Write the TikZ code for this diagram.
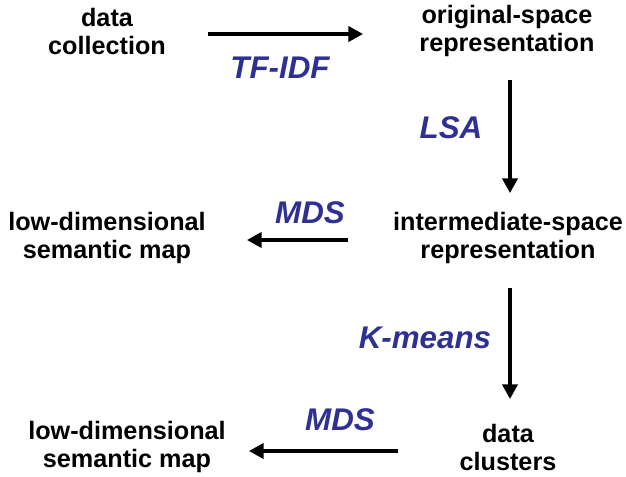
\documentclass[tikz,border=0pt]{standalone}
\usepackage{fontspec}
\setmainfont{Liberation Sans}
\usetikzlibrary{arrows.meta}
\definecolor{lblue}{RGB}{46,49,146}
\begin{document}
\begin{tikzpicture}[x=0.75pt,y=-0.75pt,
  stage/.style={align=center,inner sep=0pt,font=\fontsize{18.9}{21}\selectfont\bfseries},
  method/.style={inner sep=0pt,text=lblue,font=\fontsize{23.5}{26}\selectfont\bfseries\itshape},
  flow/.style={line width=2.3pt,-{Triangle[length=11pt,width=11.5pt]}}]
\useasboundingbox (0,0) rectangle (626,476);
% stages
\node[stage] (dc) at (107,31) {data\\collection};
\node[stage] (osr) at (507,31) {original-space\\representation};
\node[stage] (isr) at (508,238) {intermediate-space\\representation};
\node[stage] (lm1) at (107,238) {low-dimensional\\semantic map};
\node[stage] (cl) at (508,447) {data\\clusters};
\node[stage] (lm2) at (127,447) {low-dimensional\\semantic map};
% arrow end points
\coordinate (a1s) at (208,34); \coordinate (a1e) at (363,34);
\coordinate (a2s) at (510,80); \coordinate (a2e) at (510,193);
\coordinate (a3s) at (348,240); \coordinate (a3e) at (247,240);
\coordinate (a4s) at (510,288); \coordinate (a4e) at (510,399);
\coordinate (a5s) at (398,451); \coordinate (a5e) at (249,451);
\draw[flow] (a1s) -- (a1e);
\draw[flow] (a2s) -- (a2e);
\draw[flow] (a3s) -- (a3e);
\draw[flow] (a4s) -- (a4e);
\draw[flow] (a5s) -- (a5e);
% method labels
\node[method] (tfidf) at (280,68) {TF-IDF};
\node[method] (lsa) at (451,128) {LSA};
\node[method] (mds1) at (310,213) {MDS};
\node[method] (km) at (425,338) {K-means};
\node[method] (mds2) at (340,420) {MDS};
\end{tikzpicture}
\end{document}
